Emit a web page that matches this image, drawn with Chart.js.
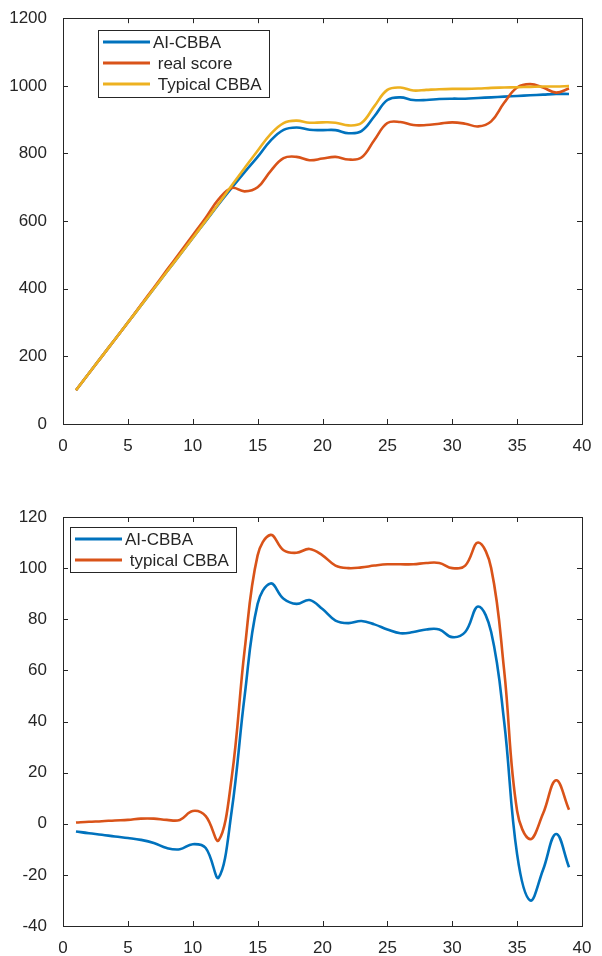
<!DOCTYPE html>
<html>
<head>
<meta charset="utf-8">
<script src="https://cdn.jsdelivr.net/npm/chart.js@4.4.0/dist/chart.umd.min.js"></script>
<style>
  body { margin:0; background:#fff; }
  #c1 { position:absolute; left:0; top:0; }
  #c2 { position:absolute; left:0; top:470px; }
</style>
</head>
<body>
<canvas id="c1" width="602" height="470"></canvas>
<canvas id="c2" width="602" height="486"></canvas>
<script>
// x values (iterations) shared by all curves
var xVals = [1,2,3,4,5,6,7,8,9,10,11,12,13,14,15,16,17,18,19,20,21,22,23,24,25,26,27,28,29,30,31,32,33,34,35,36,37,38,39];
var xTicks = [0,5,10,15,20,25,30,35,40];

// top chart
var aiScore      = [100,150,200,250,300,350,400,450,500,550,600,650,698,745,790,838,870,877,870,869,869,860,866,910,958,966,958,958,961,962,962,964,966,968,970,972,974,976,976];
var realScore    = [100,150,200,250,300,352,403,455,506,558,610,665,698,688,700,748,786,790,780,785,790,782,788,840,890,893,884,884,888,892,888,880,895,950,995,1005,995,980,992];
var typicalScore = [100,150,200,250,300,350,400,450,500,550,601,652,705,757,808,857,890,897,891,892,891,883,890,940,988,995,986,988,990,991,991,992,994,995,996,997,998,998,999];
var topYTicks = [0,200,400,600,800,1000,1200];

// bottom chart
var aiGap      = [-3,-3.7,-4.3,-5,-5.6,-6.3,-7.5,-9.5,-10,-8,-9.5,-21,5,50,86,94,88,86,87.5,84,79.5,78.5,79.3,78,76,74.5,75,76,76,73,75,85,75,40,-12,-30,-18,-4,-17];
var typicalGap = [0.5,0.8,1,1.3,1.5,2,2,1.5,1.5,5,3,-6.5,18,68,105,113,107,106,107.5,105,101,100,100.3,101,101.5,101.5,101.5,102,102,100,101,110,100,60,5,-6,4,17,5.5];
var botYTicks = [-40,-20,0,20,40,60,80,100,120];

var BLUE = '#0072BD', ORANGE = '#D95319', YELLOW = '#EDB120', INK = '#262626';
var FONT = '"Liberation Sans", Arial, sans-serif';

function pts(ys) {
  return xVals.map(function(x, i){ return {x: x, y: ys[i]}; });
}

function line(label, ys, color, order) {
  return {
    label: label,
    data: pts(ys),
    borderColor: color,
    backgroundColor: color,
    borderWidth: 2.6,
    pointRadius: 0,
    tension: 0.4,
    fill: false,
    order: order
  };
}

// box round the plot with ticks pointing inwards, like matlab
var framePlugin = {
  id: 'frame',
  afterDraw: function(chart) {
    var ctx = chart.ctx, a = chart.chartArea;
    var sx = chart.scales.x, sy = chart.scales.y;
    ctx.save();
    ctx.strokeStyle = INK;
    ctx.lineWidth = 1;
    ctx.strokeRect(Math.round(a.left)+0.5, Math.round(a.top)+0.5, Math.round(a.right-a.left), Math.round(a.bottom-a.top));
    ctx.beginPath();
    sx.ticks.forEach(function(t){
      var px = Math.round(sx.getPixelForValue(t.value))+0.5;
      ctx.moveTo(px, a.bottom); ctx.lineTo(px, a.bottom-5);
      ctx.moveTo(px, a.top); ctx.lineTo(px, a.top+5);
    });
    sy.ticks.forEach(function(t){
      var py = Math.round(sy.getPixelForValue(t.value))+0.5;
      ctx.moveTo(a.left, py); ctx.lineTo(a.left+5, py);
      ctx.moveTo(a.right, py); ctx.lineTo(a.right-5, py);
    });
    ctx.stroke();
    ctx.restore();
  }
};

// legend drawn as a boxed list inside the plot
var boxLegend = {
  id: 'boxLegend',
  afterDraw: function(chart, args, o) {
    var ctx = chart.ctx;
    ctx.save();
    ctx.fillStyle = '#fff';
    ctx.fillRect(o.x, o.y, o.w, o.h);
    ctx.strokeStyle = INK;
    ctx.lineWidth = 1;
    ctx.strokeRect(o.x+0.5, o.y+0.5, o.w, o.h);
    ctx.font = '17px ' + FONT;
    ctx.textBaseline = 'middle';
    chart.data.datasets.forEach(function(ds, i){
      var y = o.row0 + i*o.rowH;
      ctx.strokeStyle = ds.borderColor;
      ctx.lineWidth = 3;
      ctx.beginPath();
      ctx.moveTo(o.x+5, y); ctx.lineTo(o.x+52, y);
      ctx.stroke();
      ctx.fillStyle = INK;
      ctx.fillText(ds.label, o.x+55, y+1);
    });
    ctx.restore();
  }
};

function makeChart(id, datasets, yTicks, xHeight, padTop, legendOpts) {
  return new Chart(document.getElementById(id), {
    type: 'line',
    data: { datasets: datasets },
    options: {
      responsive: false,
      animation: false,
      devicePixelRatio: 1,
      layout: { padding: { top: padTop, right: 20, left: 0, bottom: 0 } },
      plugins: { legend: { display: false }, tooltip: { enabled: false }, boxLegend: legendOpts },
      scales: {
        x: {
          type: 'linear',
          min: xTicks[0], max: xTicks[xTicks.length-1],
          afterBuildTicks: function(s){ s.ticks = xTicks.map(function(v){ return {value: v}; }); },
          afterFit: function(s){ s.height = xHeight; },
          grid: { display: false },
          border: { display: false },
          ticks: { color: INK, font: { size: 17, family: FONT }, padding: 4, maxRotation: 0,
                   callback: function(v){ return String(v); } }
        },
        y: {
          min: yTicks[0], max: yTicks[yTicks.length-1],
          afterBuildTicks: function(s){ s.ticks = yTicks.map(function(v){ return {value: v}; }); },
          afterFit: function(s){ s.width = 63; },
          grid: { display: false },
          border: { display: false },
          ticks: { color: INK, font: { size: 17, family: FONT }, padding: 8,
                   callback: function(v){ return String(v); } }
        }
      }
    },
    plugins: [framePlugin, boxLegend]
  });
}

makeChart('c1', [
  line('AI-CBBA', aiScore, BLUE, 3),
  line(' real score', realScore, ORANGE, 2),
  line(' Typical CBBA', typicalScore, YELLOW, 1)
], topYTicks, 46, 14, { x: 98, y: 30, w: 171, h: 67, row0: 42, rowH: 21 });

makeChart('c2', [
  line('AI-CBBA', aiGap, BLUE, 2),
  line(' typical CBBA', typicalGap, ORANGE, 1)
], botYTicks, 30, 47, { x: 70, y: 57, w: 166, h: 45, row0: 69, rowH: 21 });
</script>
</body>
</html>
